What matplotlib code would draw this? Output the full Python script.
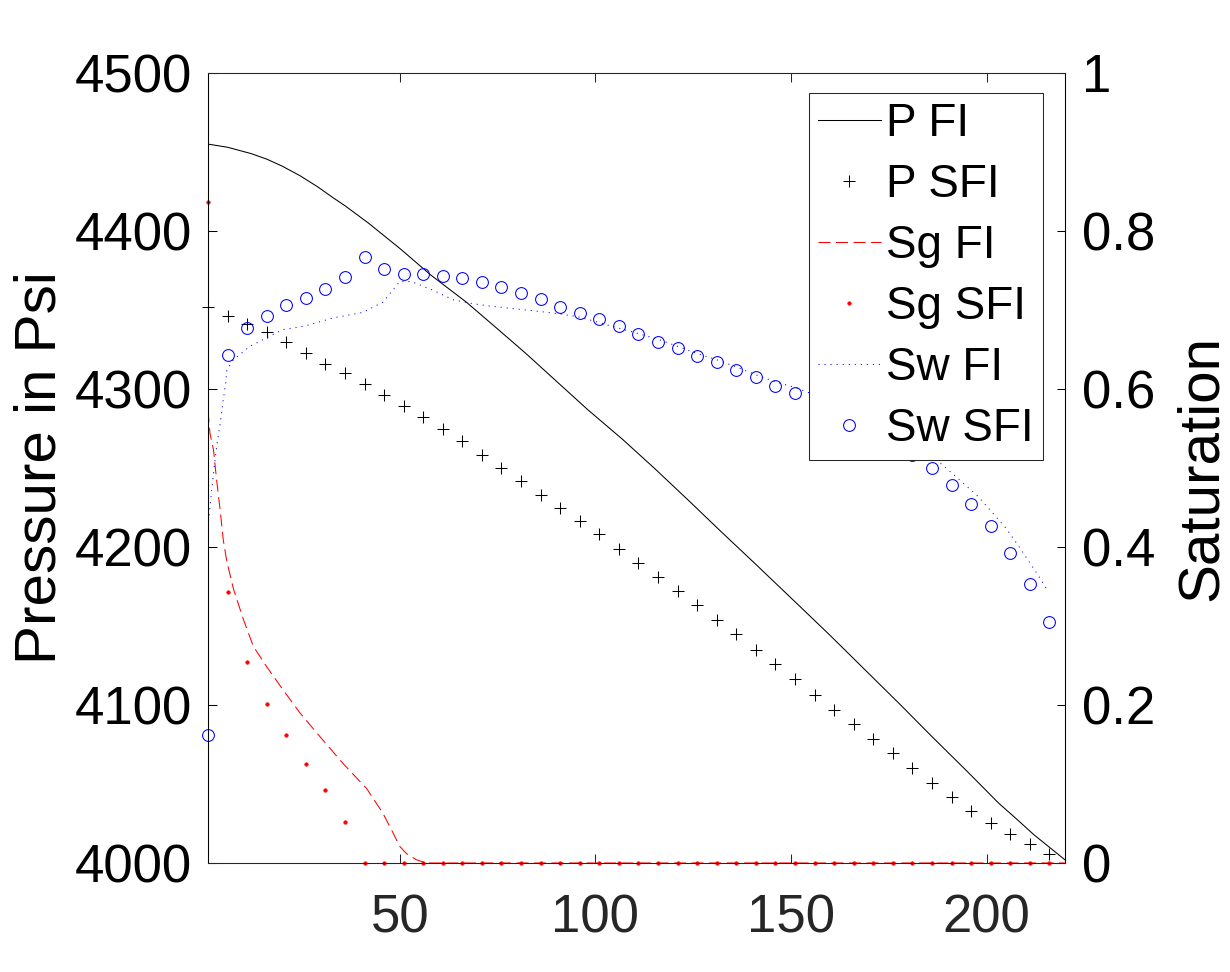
import matplotlib
matplotlib.use("Agg")
import matplotlib.pyplot as plt
import numpy as np

plt.rcParams['font.family'] = ['Liberation Sans', 'DejaVu Sans']

# sample index of the SFI points (every 5th step)
x_sfi = list(range(1, 217, 5))

# pressure, fully implicit run
x_p_fi = [1, 6, 12, 16, 20, 24.5, 29, 33, 36, 42, 50, 58, 67, 75, 82, 90, 98,
          107, 115, 124, 132, 141, 152, 160, 169, 178, 186, 195, 203, 208,
          212, 216, 220]
p_fi = [4455, 4453, 4449, 4445.5, 4441, 4435, 4428, 4421, 4416, 4405, 4389,
        4372, 4355, 4338, 4323, 4305, 4287, 4268, 4250, 4229, 4210, 4189,
        4163, 4144, 4122, 4100, 4080, 4058, 4038, 4027, 4018, 4010, 4002]

# pressure, sequential run
p_sfi = [4352, 4346, 4341, 4336, 4330, 4323, 4316, 4310, 4303, 4296,
         4289, 4282, 4275, 4267, 4258, 4250, 4242, 4233, 4225, 4216.5,
         4208, 4199, 4190, 4181, 4172, 4163, 4154, 4145, 4135, 4126,
         4116.5, 4106.5, 4097, 4088, 4078.5, 4069.5, 4060, 4050.5, 4042, 4033,
         4025.5, 4018.5, 4012, 4006]

# gas saturation
x_sg_fi = [1, 1.5, 2.4, 3.2, 4.1, 4.9, 5.8, 7.5, 10, 12.6, 16, 20.2, 24.5,
           29.6, 35.5, 41.5, 45.7, 48.3, 50, 51.7, 54.3, 56.8, 220]
sg_fi = [0.573, 0.544, 0.523, 0.485, 0.447, 0.409, 0.382, 0.347, 0.309,
         0.274, 0.2485, 0.219, 0.19, 0.16, 0.126, 0.0945, 0.063, 0.038, 0.021,
         0.012, 0.004, 0.0, 0.0]
sg_sfi = [0.837, 0.343, 0.254, 0.2017, 0.1616, 0.1257, 0.0924, 0.0523] + [0.0] * 36

# water saturation
x_sw_fi = [1, 1.5, 2.4, 3.2, 4.1, 4.9, 5.6, 5.8, 7.5, 11.7, 20, 26, 33, 40.6,
           45.7, 50, 53, 58.5, 63.6, 68.7, 73, 86, 91, 96, 101, 106, 111, 116,
           121, 126, 131, 136, 141, 146, 151, 160, 170, 180, 188.7, 197.8,
           204.9, 208.3, 212.5, 215.2]
sw_fi = [0.425, 0.451, 0.493, 0.527, 0.556, 0.586, 0.611, 0.624, 0.637,
         0.654, 0.675, 0.680, 0.690, 0.697, 0.710, 0.736, 0.736, 0.725, 0.713,
         0.708, 0.705, 0.698, 0.695, 0.691, 0.684, 0.677, 0.670, 0.663, 0.654,
         0.645, 0.637, 0.628, 0.618, 0.609, 0.602, 0.585, 0.563, 0.535, 0.504,
         0.464, 0.424, 0.400, 0.369, 0.348]
sw_sfi = [0.162, 0.643, 0.677, 0.692, 0.706, 0.715, 0.726, 0.742, 0.767, 0.752,
          0.746, 0.745, 0.743, 0.740, 0.735, 0.729, 0.721, 0.714, 0.704, 0.696,
          0.688, 0.680, 0.669, 0.660, 0.652, 0.642, 0.634, 0.624, 0.615, 0.604,
          0.595, 0.583, 0.571, 0.558, 0.545, 0.531, 0.516, 0.500, 0.479, 0.454,
          0.427, 0.393, 0.353, 0.305]

fig = plt.figure(figsize=(12.3, 9.72), dpi=100)
ax1 = fig.add_axes([208/1230, 109/972, 857/1230, 790/972])
ax2 = ax1.twinx()

l1, = ax1.plot(x_p_fi, p_fi, '-', color='k', lw=0.75, label='P FI')
l2, = ax1.plot(x_sfi, p_sfi, '+', color='k', ms=8.6, mew=0.75,
               clip_on=False, label='P SFI')
l3, = ax2.plot(x_sg_fi, sg_fi, color='r', lw=0.75, linestyle=(0, (11.5, 5.3)),
               label='Sg FI')
l4, = ax2.plot(x_sfi, sg_sfi, '.', color='r', ms=5, mew=0.5,
               clip_on=False, label='Sg SFI')
l5, = ax2.plot(x_sw_fi, sw_fi, color='b', lw=0.75, linestyle=(0, (1.0, 4.8)),
               label='Sw FI')
l6, = ax2.plot(x_sfi, sw_sfi, 'o', color='b', mfc='none', ms=8.5, mew=0.75,
               clip_on=False, label='Sw SFI')

ax1.set_xlim(1, 220)
ax1.set_ylim(4000, 4500)
ax2.set_ylim(0, 1)

ax1.set_xticks([50, 100, 150, 200])
ax1.set_yticks(np.arange(4000, 4501, 100))
ax2.set_yticks([0, 0.2, 0.4, 0.6, 0.8, 1])
ax2.set_yticklabels(['0', '0.2', '0.4', '0.6', '0.8', '1'])

ax1.tick_params(axis='x', direction='in', length=6.7, width=0.75, top=True,
                labelsize=38, pad=22, colors='#262626')
ax1.tick_params(axis='y', direction='in', length=6.7, width=0.75, left=True,
                right=False, labelsize=38, pad=11.5)
ax2.tick_params(axis='y', direction='in', length=6.0, width=0.75, left=False,
                right=True, labelsize=38, pad=12)

for a in (ax1, ax2):
    for s in a.spines.values():
        s.set_linewidth(0.75)
    a.spines['top'].set_color('#262626')
    a.spines['bottom'].set_color('#262626')

ax1.set_ylabel('Pressure in Psi', fontsize=42, labelpad=5)
ax2.set_ylabel('Saturation', fontsize=42, labelpad=14)

leg = fig.legend(handles=[l1, l2, l3, l4, l5, l6], loc='upper right',
                 bbox_to_anchor=(1043/1230, 1 - 93/972),
                 bbox_transform=fig.transFigure, borderaxespad=0,
                 fontsize=33, handlelength=1.37, handletextpad=0.12,
                 labelspacing=0.37, borderpad=0.2, fancybox=False,
                 framealpha=1, edgecolor='#262626')
leg.get_frame().set_linewidth(0.75)

fig.savefig('out.png', dpi=100, facecolor='white')
